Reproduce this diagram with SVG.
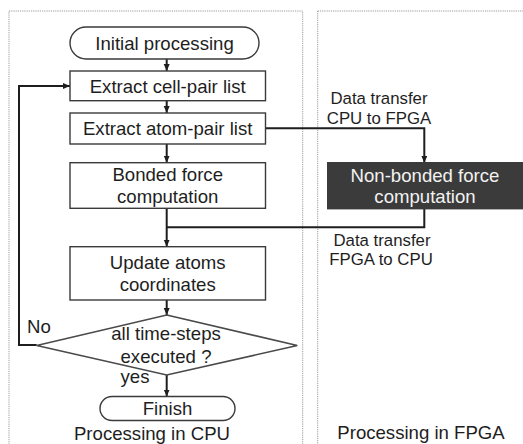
<svg xmlns="http://www.w3.org/2000/svg" width="523" height="444" viewBox="0 0 523 444">
<style>
  .panel{fill:none;stroke:#9a9a9a;stroke-width:1;stroke-dasharray:1.2 1}
  .box{fill:#fff;stroke:#3a3a3a;stroke-width:1.4}
  .dark{fill:#3b3b3b;stroke:#3b3b3b;stroke-width:1.4}
  .dia{fill:#fff;stroke:#4a4a4a;stroke-width:1.6}
  .t{font-family:"Liberation Sans",Arial,sans-serif;font-size:18.6px;fill:#1e1e1e;text-anchor:middle}
  .w{fill:#f2f2f2}
  .s{font-family:"Liberation Sans",Arial,sans-serif;font-size:16.8px;fill:#1e1e1e;text-anchor:middle}
  .c{fill:none;stroke:#1e1e1e;stroke-width:2}
</style>
<defs>
  <marker id="ah" markerUnits="userSpaceOnUse" markerWidth="8" markerHeight="7" refX="7" refY="3" orient="auto">
    <path d="M0,0 L7,3 L0,6 z" fill="#1e1e1e"/>
  </marker>
</defs>
<rect width="523" height="444" fill="#fff"/>
<g id="panels">
  <rect class="panel" x="9" y="11" width="293.7" height="450"/>
  <rect class="panel" x="317.7" y="11" width="215" height="450"/>
</g>
<g id="connectors">
  <line class="c" x1="166.7" y1="59" x2="166.7" y2="71" marker-end="url(#ah)"/>
  <line class="c" x1="166.7" y1="100.7" x2="166.7" y2="113" marker-end="url(#ah)"/>
  <line class="c" x1="166.7" y1="144" x2="166.7" y2="162.7" marker-end="url(#ah)"/>
  <line class="c" x1="166.7" y1="208.3" x2="166.7" y2="246.7" marker-end="url(#ah)"/>
  <polyline class="c" points="265.5,128.3 424.3,128.3 424.3,162.7" marker-end="url(#ah)"/>
  <polyline class="c" points="424.3,208.7 424.3,227.3 166.7,227.3"/>
  <line class="c" x1="166.7" y1="300" x2="166.7" y2="315" marker-end="url(#ah)"/>
  <line class="c" x1="166.7" y1="375" x2="166.7" y2="396.5" marker-end="url(#ah)"/>
  <polyline class="c" points="36.7,345 19,345 19,86 70,86" marker-end="url(#ah)"/>
</g>
<g id="initial">
  <rect class="box" x="70" y="27" width="189" height="32" rx="16"/>
  <text class="t" x="164.5" y="49.5">Initial processing</text>
</g>
<g id="cellpair">
  <rect class="box" x="70" y="71" width="195.5" height="29.7"/>
  <text class="t" x="167.7" y="92.5">Extract cell-pair list</text>
</g>
<g id="atompair">
  <rect class="box" x="70" y="113" width="195.5" height="31"/>
  <text class="t" x="167.7" y="135">Extract atom-pair list</text>
</g>
<g id="bonded">
  <rect class="box" x="70" y="162.7" width="195.5" height="45.6"/>
  <text class="t" x="167.7" y="181">Bonded force</text>
  <text class="t" x="167.7" y="203">computation</text>
</g>
<g id="nonbonded">
  <rect class="dark" x="327.7" y="162.7" width="194.6" height="46"/>
  <text class="t w" x="425" y="181.5">Non-bonded force</text>
  <text class="t w" x="425" y="203">computation</text>
</g>
<g id="update">
  <rect class="box" x="70" y="246.7" width="195.5" height="53.3"/>
  <text class="t" x="167.7" y="268.5">Update atoms</text>
  <text class="t" x="167.7" y="290.5">coordinates</text>
</g>
<g id="decision">
  <polygon class="dia" points="166.7,315 297.3,345.5 166.7,375 36.7,345.5"/>
  <text class="t" x="166" y="340">all time-steps</text>
  <text class="t" x="166" y="362.5">executed ?</text>
</g>
<g id="finish">
  <rect class="box" x="100" y="396.5" width="135" height="24" rx="12"/>
  <text class="t" x="167.5" y="415">Finish</text>
</g>
<g id="labels">
  <text class="t" x="39" y="333.3">No</text>
  <text class="t" x="135" y="382.5">yes</text>
  <text class="s" x="379" y="104.3">Data transfer</text>
  <text class="s" x="379" y="124">CPU to FPGA</text>
  <text class="s" x="382" y="245.7">Data transfer</text>
  <text class="s" x="381" y="265">FPGA to CPU</text>
  <text class="t" x="152" y="440">Processing in CPU</text>
  <text class="t" x="421" y="439">Processing in FPGA</text>
</g>
</svg>
